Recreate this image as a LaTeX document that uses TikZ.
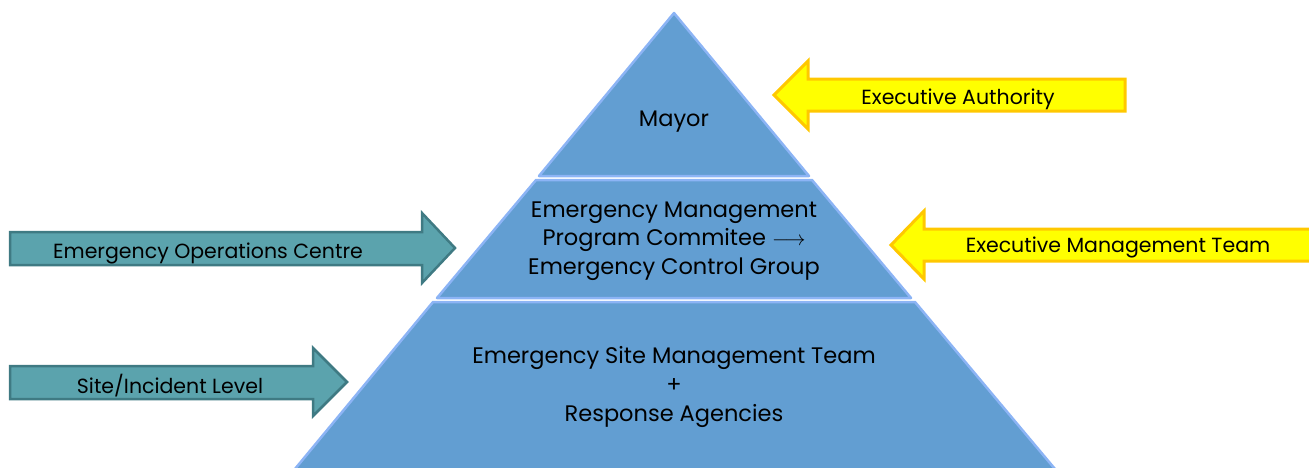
\documentclass[tikz,border=0pt]{standalone}
\usepackage{fontspec}
\setmainfont{Poppins}
\definecolor{pyfill}{HTML}{629ED2}
\definecolor{pyline}{HTML}{8CB4F5}
\definecolor{yfill}{HTML}{FFFF00}
\definecolor{yline}{HTML}{FFC800}
\definecolor{tfill}{HTML}{5BA3AD}
\definecolor{tline}{HTML}{3F7A83}
\begin{document}
\begin{tikzpicture}[x=1pt,y=-1pt,
  layer/.style={fill=pyfill,draw=pyline,line width=2.5pt,line join=round},
  yarrow/.style={fill=yfill,draw=yline,line width=3pt,line join=miter},
  tarrow/.style={fill=tfill,draw=tline,line width=2.5pt,line join=miter},
  ptext/.style={font=\fontsize{22.5}{28.5}\selectfont,align=center,inner sep=0pt},
  atext/.style={font=\fontsize{20.5}{24}\selectfont,inner sep=0pt}]
\useasboundingbox (0,0) rectangle (1309,467);
\begin{scope}
\clip (0,0) rectangle (1309,467);
% pyramid layers
\draw[layer] (674,13) -- (809,176) -- (539,176) -- cycle;
\draw[layer] (536,180) -- (812,180) -- (911,298) -- (437,298) -- cycle;
\draw[layer] (433,302) -- (915,302) -- (1060,475) -- (290,475) -- cycle;
% arrows
\draw[yarrow] (774,95) -- (808,61) -- (808,79) -- (1125,79) -- (1125,111) -- (808,111) -- (808,129) -- cycle;
\draw[yarrow] (891,245) -- (924,211) -- (924,229) -- (1320,229) -- (1320,261) -- (924,261) -- (924,279) -- cycle;
\draw[tarrow] (10,232) -- (422,232) -- (422,213) -- (455,248) -- (422,283) -- (422,265) -- (10,265) -- cycle;
\draw[tarrow] (10,366) -- (313,366) -- (313,348) -- (347,382) -- (313,416) -- (313,399) -- (10,399) -- cycle;
\end{scope}
% texts
\node[ptext] (mayor) at (674,122) {Mayor};
\node[ptext] (emc) at (674,241) {Emergency Management\\Program Commitee $\longrightarrow$\\Emergency Control Group};
\node[ptext,font=\fontsize{22.5}{29}\selectfont] (esm) at (674,387) {Emergency Site Management Team\\+\\Response Agencies};
\node[atext] (ea) at (958,99) {Executive Authority};
\node[atext] (emt) at (1118,247) {Executive Management Team};
\node[atext] (eoc) at (208,253) {Emergency Operations Centre};
\node[atext] (sil) at (170,386) {Site/Incident Level};
\end{tikzpicture}
\end{document}
